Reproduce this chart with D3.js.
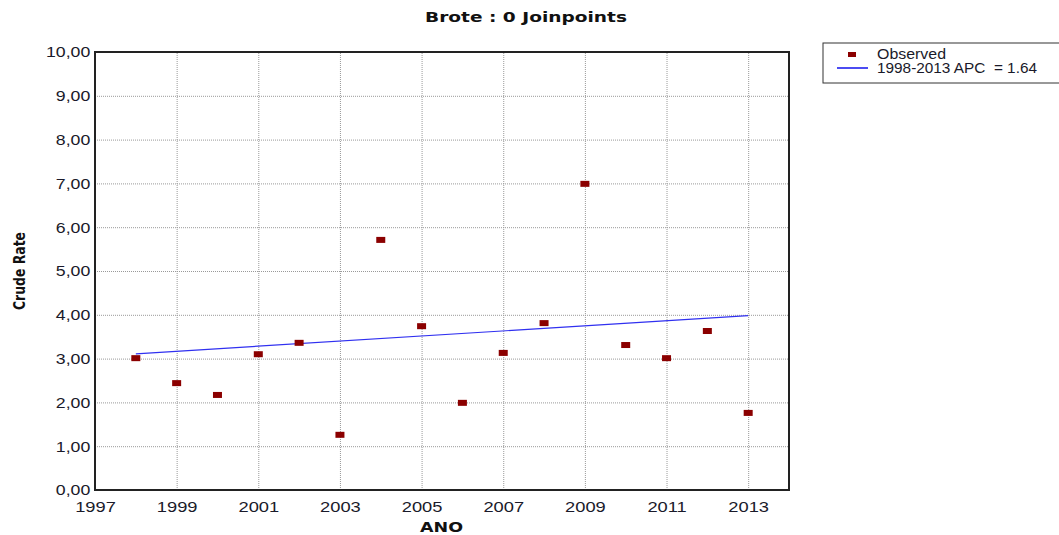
<!DOCTYPE html>
<html>
<head>
<meta charset="utf-8">
<script src="https://cdn.jsdelivr.net/npm/d3@7"></script>
<style>
  body { margin: 0; background: #fff; }
  .tick text { font-family: "Liberation Sans", Arial, sans-serif; font-size: 15px; fill: #1a1a2a; }
  .grid line { stroke: #999; stroke-dasharray: 1,1; }
  .grid path { display: none; }
</style>
</head>
<body>
<div id="chart"></div>
<script>
(function() {

var years = [1998, 1999, 2000, 2001, 2002, 2003, 2004, 2005, 2006, 2007, 2008, 2009, 2010, 2011, 2012, 2013];
var observed = [3.01, 2.44, 2.17, 3.10, 3.36, 1.26, 5.71, 3.74, 1.99, 3.13, 3.81, 6.99, 3.31, 3.01, 3.63, 1.76];
var fitYears = [1998, 2013];
var fitValues = [3.11, 3.98];
var xTicks = [1997, 1999, 2001, 2003, 2005, 2007, 2009, 2011, 2013];
var yTicks = [0, 1, 2, 3, 4, 5, 6, 7, 8, 9, 10];
var legendLabels = ["Observed", "1998-2013 APC\u00a0\u00a0= 1.64"];

var margin = {top: 52, right: 270, bottom: 45, left: 95},
    width = 1059 - margin.left - margin.right,
    height = 535 - margin.top - margin.bottom;

var x = d3.scaleLinear()
    .domain([1997, 2014])
    .range([0, width]);

var y = d3.scaleLinear()
    .domain([0, 10])
    .range([height, 0]);

var root = d3.select("#chart").append("svg")
    .attr("width", 1059)
    .attr("height", 535);

var svg = root.append("g")
    .attr("transform", "translate(" + margin.left + "," + margin.top + ")");

// grid
svg.append("g")
    .attr("class", "grid")
    .attr("transform", "translate(0," + height + ")")
    .call(d3.axisBottom(x).tickValues(xTicks).tickSize(-height).tickFormat(""));

svg.append("g")
    .attr("class", "grid")
    .call(d3.axisLeft(y).tickValues(yTicks).tickSize(-width).tickFormat(""));

// frame
svg.append("rect")
    .attr("width", width)
    .attr("height", height)
    .style("fill", "none")
    .style("stroke", "#222")
    .style("stroke-width", 2);

// axes (labels only, stretched a bit wide like the original)
var xAxis = svg.append("g")
    .attr("transform", "translate(0," + height + ")")
    .call(d3.axisBottom(x).tickValues(xTicks).tickSize(0).tickPadding(11).tickFormat(d3.format("d")));
xAxis.select(".domain").remove();
xAxis.selectAll("text").attr("transform", "scale(1.22,1)");

var yAxis = svg.append("g")
    .call(d3.axisLeft(y).tickValues(yTicks).tickSize(0).tickPadding(4)
      .tickFormat(function(d) { return d3.format(".2f")(d).replace(".", ","); }));
yAxis.select(".domain").remove();
yAxis.selectAll("text").attr("transform", "scale(1.18,1)");

// fitted line
var fit = fitYears.map(function(d, i) { return {year: d, v: fitValues[i]}; });
svg.append("path")
    .datum(fit)
    .attr("d", d3.line().x(function(d) { return x(d.year); }).y(function(d) { return y(d.v); }))
    .style("fill", "none")
    .style("stroke", "#3030f0")
    .style("stroke-width", 1.2);

// observed points
svg.selectAll(".dot")
    .data(years)
  .enter().append("rect")
    .attr("class", "dot")
    .attr("x", function(d) { return x(d) - 4.5; })
    .attr("y", function(d, i) { return y(observed[i]) - 3; })
    .attr("width", 9)
    .attr("height", 6)
    .style("fill", "#8b0000");

// titles
root.append("text")
    .attr("x", 425)
    .attr("y", 22)
    .attr("textLength", 202)
    .attr("lengthAdjust", "spacingAndGlyphs")
    .style("font-family", "'DejaVu Sans', Verdana, sans-serif")
    .style("font-weight", "bold")
    .style("font-size", "14px")
    .style("fill", "#111")
    .text("Brote : 0 Joinpoints");

root.append("text")
    .attr("x", 420)
    .attr("y", 532)
    .attr("textLength", 43)
    .attr("lengthAdjust", "spacingAndGlyphs")
    .style("font-family", "'DejaVu Sans', Verdana, sans-serif")
    .style("font-weight", "bold")
    .style("font-size", "14px")
    .style("fill", "#111")
    .text("ANO");

root.append("text")
    .attr("transform", "translate(25,310) rotate(-90)")
    .attr("textLength", 78)
    .attr("lengthAdjust", "spacingAndGlyphs")
    .style("font-family", "'DejaVu Sans', Verdana, sans-serif")
    .style("font-weight", "bold")
    .style("font-size", "15px")
    .style("fill", "#111")
    .text("Crude Rate");

// legend
var legend = root.append("g").attr("transform", "translate(823,43)");
legend.append("rect")
    .attr("width", 240)
    .attr("height", 40)
    .style("fill", "#fff")
    .style("stroke", "#333")
    .style("stroke-width", 1);
legend.append("rect")
    .attr("x", 25).attr("y", 9)
    .attr("width", 8).attr("height", 5)
    .style("fill", "#8b0000");
legend.append("line")
    .attr("x1", 14).attr("x2", 45)
    .attr("y1", 25).attr("y2", 25)
    .style("stroke", "#1111ee")
    .style("stroke-width", 1.5);
legend.selectAll(".ltext")
    .data(legendLabels)
  .enter().append("text")
    .attr("x", 54)
    .attr("y", function(d, i) { return 16 + i * 14; })
    .attr("textLength", function(d, i) { return i === 0 ? 69 : 160; })
    .attr("lengthAdjust", "spacingAndGlyphs")
    .style("font-family", "'Liberation Sans', Arial, sans-serif")
    .style("font-size", "14px")
    .style("fill", "#1a1a2a")
    .text(function(d) { return d; });

})()
</script>
</body>
</html>
